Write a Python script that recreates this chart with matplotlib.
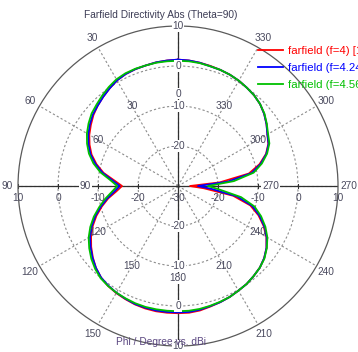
import numpy as np
import matplotlib.pyplot as plt
from matplotlib.transforms import offset_copy

plt.rcParams['font.family'] = ['Liberation Sans', 'DejaVu Sans']

# Farfield directivity cut at Theta=90, sampled every 5 degrees of Phi
phi_deg = np.arange(0, 360, 5)

dbi_f400 = [1.6, 1.5, 1.4, 1.2, 1.1, 0.9, 0.5, -0.2, -0.9, -1.6,
            -2.4, -3.4, -4.4, -5.6, -7.0, -8.9, -11.1, -14.0, -16.0, -14.5,
            -12.3, -10.3, -8.3, -6.5, -4.9, -3.5, -2.2, -1.0, -0.1, 0.5,
            0.9, 1.2, 1.5, 1.7, 1.8, 1.8, 1.8, 1.8, 1.6, 1.2,
            0.9, 0.6, 0.2, -0.1, -0.6, -1.1, -1.9, -3.0, -4.5, -6.4,
            -8.6, -11.3, -16.0, -23.5, -27.0, -19.5, -12.0, -8.9, -6.6, -5.1,
            -4.2, -3.0, -1.9, -1.0, -0.4, 0.0, 0.4, 0.7, 0.9, 1.1,
            1.3, 1.5]

dbi_f424 = [1.6, 1.5, 1.4, 1.2, 1.1, 0.9, 0.5, -0.2, -0.9, -1.6,
            -2.2, -3.1, -4.1, -5.3, -6.7, -8.6, -10.8, -13.5, -15.4, -14.0,
            -12.0, -10.0, -8.0, -6.2, -4.6, -3.3, -2.1, -1.0, -0.1, 0.4,
            0.8, 1.1, 1.4, 1.5, 1.6, 1.6, 1.6, 1.6, 1.4, 1.1,
            0.9, 0.6, 0.2, -0.1, -0.6, -1.1, -1.9, -3.0, -4.4, -6.2,
            -8.3, -10.8, -15.0, -21.5, -25.0, -17.5, -11.3, -8.6, -6.5, -5.0,
            -4.2, -3.0, -1.9, -1.0, -0.4, 0.0, 0.4, 0.7, 0.9, 1.0,
            1.3, 1.5]

dbi_f456 = [1.3, 1.3, 1.3, 1.2, 1.2, 1.1, 0.8, 0.2, -0.5, -1.2,
            -1.8, -2.7, -3.7, -4.9, -6.3, -8.1, -10.3, -13.0, -14.8, -13.4,
            -11.5, -9.6, -7.6, -5.8, -4.2, -2.9, -1.7, -0.7, 0.1, 0.5,
            0.8, 1.0, 1.2, 1.3, 1.3, 1.3, 1.3, 1.3, 1.2, 1.0,
            0.8, 0.6, 0.2, -0.1, -0.6, -1.1, -1.8, -2.9, -4.2, -5.9,
            -7.9, -10.2, -14.0, -19.5, -22.5, -16.0, -10.8, -8.3, -6.3, -4.8,
            -4.0, -2.9, -1.8, -1.0, -0.4, 0.0, 0.4, 0.7, 0.9, 1.0,
            1.2, 1.3]

series = [dbi_f400, dbi_f424, dbi_f456]
series_labels = ['farfield (f=4) [1]', 'farfield (f=4.24) [1]', 'farfield (f=4.56) [1]']
series_colors = ['#ff0000', '#0000ff', '#00c000']

r_min, r_max = -30, 10
ring_levels = [-20, -10, 0]
angle_ticks = np.arange(0, 360, 30)
outer_angle_labels = [30, 60, 90, 120, 150, 210, 240, 270, 300, 330]

text_color = '#4a4a5e'
fs = 7.3

fig = plt.figure(figsize=(3.58, 3.52), dpi=100)
ax = fig.add_axes([0.0503, 0.017, 0.8939, 0.9091], projection='polar')
ax.set_theta_zero_location('N')
ax.set_theta_direction(1)
ax.set_rlim(r_min, r_max)

ax.set_thetagrids(angle_ticks, labels=[])
ax.set_rgrids(ring_levels, labels=[])
ax.grid(True, color='#8c8c8c', linestyle=(0, (2, 2)), linewidth=0.8)
ax.spines['polar'].set_color('#5a5a5a')
ax.spines['polar'].set_linewidth(0.9)

# solid axis lines through the origin
for a in [0, 90, 180, 270]:
    ax.plot([np.radians(a)] * 2, [r_min, r_max], color='#303030', lw=0.9, zorder=2)
for a, mk in [(90, '|'), (270, '|'), (0, '_'), (180, '_')]:
    ax.plot([np.radians(a)] * 4, [-20, -10, 0, 10], ls='none', marker=mk,
            ms=3, color='#303030', mew=0.8, zorder=2)

lines = []
for vals, lab, col in zip(series, series_labels, series_colors):
    th = np.radians(np.append(phi_deg, 360))
    rr = np.append(vals, vals[0])
    ln, = ax.plot(th, rr, color=col, lw=1.3, label=lab, zorder=3)
    lines.append(ln)

white = dict(facecolor='white', edgecolor='none', pad=0.6)

# angle labels, outside the frame and on the -7 dB ring
for a in outer_angle_labels:
    ax.text(np.radians(a), 12.75, str(a), ha='center', va='center',
            fontsize=fs, color=text_color)
for a in angle_ticks:
    box = white if a % 90 == 0 else None
    ax.text(np.radians(a), -6.9, str(a), ha='center', va='center',
            fontsize=fs, color=text_color, bbox=box, zorder=5)

# radial labels below the horizontal axis
below = offset_copy(ax.transData, fig=fig, y=-12, units='dots')
for r in [10, 0, -10, -20, -30]:
    ax.text(np.radians(90), r, str(r), transform=below, ha='center', va='center',
            fontsize=fs, color=text_color)
for r in [-20, -10, 0, 10]:
    ax.text(np.radians(270), r, str(r), transform=below, ha='center', va='center',
            fontsize=fs, color=text_color)

# radial labels sitting on the vertical axis
for r in [10, 0, -10, -20]:
    ax.text(0, r, str(r), ha='center', va='center', fontsize=fs,
            color=text_color, bbox=white, zorder=6)
for r in [-20, -10, 0, 10]:
    ax.text(np.pi, r, str(r), ha='center', va='center', fontsize=fs,
            color=text_color, bbox=white, zorder=6)

fig.text(161 / 358, 1 - 15 / 352, 'Farfield Directivity Abs (Theta=90)',
         ha='center', va='center', fontsize=fs, color='#3c3c55', zorder=1)
fig.text(161 / 358, 1 - 342 / 352, 'Phi / Degree vs. dBi',
         ha='center', va='center', fontsize=fs, color='#5a4680', zorder=1)

fig.legend(handles=lines, loc='upper left', bbox_to_anchor=(258 / 358, 1 - 46 / 352),
           frameon=False, fontsize=8.2, labelcolor='linecolor', borderpad=0,
           borderaxespad=0, handlelength=2.2, handletextpad=0.45, labelspacing=0.62)

fig.savefig('out.png', dpi=100)
